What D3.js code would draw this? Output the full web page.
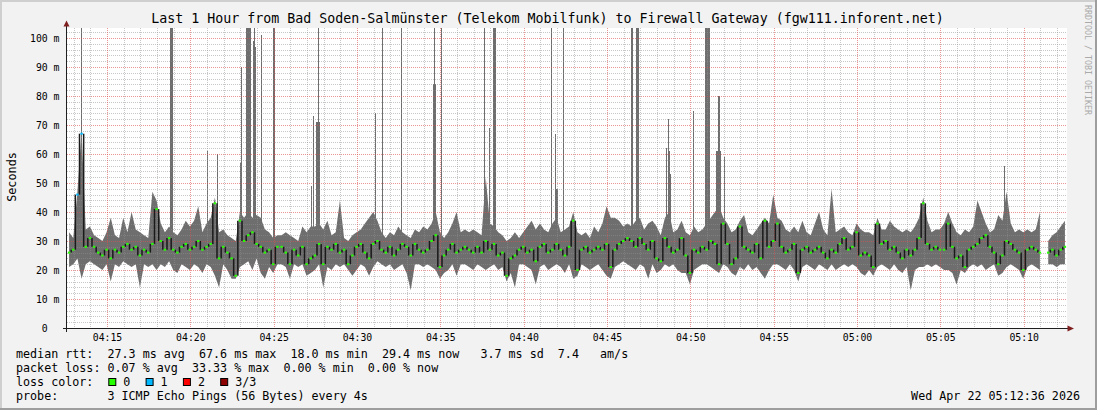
<!DOCTYPE html>
<html>
<head>
<meta charset="utf-8">
<script src="https://cdn.jsdelivr.net/npm/d3@7"></script>
<style>
	html, body { margin: 0; padding: 0; background: #f2f2f2; }
	svg { display: block; }
	text { font-family: "DejaVu Sans Mono", monospace; white-space: pre; }
</style>
</head>
<body>
<svg id="chart" width="1097" height="410"></svg>
<script>
// ---- chart data ----
const titleText = 'Last 1 Hour from Bad Soden-Salmünster (Telekom Mobilfunk) to Firewall Gateway (fgw111.inforent.net)';
const chartDay = '2026-04-22';
const startTime = '04:12:36';
const endTime = '05:12:36';
const sampleStep = 15; // seconds per smoke column
const pingStep = 4; // seconds per raw probe round

// lowest ping per column (ms)
const smokeLo = [
	21, 22, 24, 17, 22, 23, 22, 21, 20, 22,
	16, 22, 21, 23, 22, 21, 22, 14, 22, 21,
	22, 20, 22, 21, 23, 20, 19, 22, 21, 20,
	22, 21, 19, 22, 21, 18, 14, 22, 20, 17,
	17, 21, 22, 23, 20, 24, 19, 17, 21, 19,
	22, 22, 21, 17, 22, 21, 22, 18, 19, 20,
	22, 14, 21, 20, 22, 21, 22, 20, 18, 20,
	22, 21, 18, 21, 23, 22, 21, 22, 20, 21,
	22, 19, 13, 22, 22, 21, 22, 21, 20, 17,
	19, 20, 22, 18, 22, 22, 21, 20, 22, 21,
	20, 21, 22, 20, 21, 16, 19, 14, 22, 22,
	21, 20, 15, 21, 22, 20, 21, 22, 21, 19,
	22, 17, 18, 22, 21, 20, 21, 22, 20, 18,
	17, 21, 22, 23, 22, 21, 20, 22, 21, 17,
	22, 19, 20, 22, 21, 22, 20, 19, 19, 15,
	20, 21, 22, 22, 21, 20, 19, 22, 21, 19,
	18, 21, 20, 22, 20, 21, 19, 17, 20, 22,
	22, 21, 20, 22, 20, 16, 21, 22, 21, 20,
	22, 21, 20, 22, 20, 21, 22, 21, 22, 21,
	19, 18, 20, 18, 21, 22, 21, 20, 22, 20,
	19, 21, 13, 20, 21, 21, 22, 21, 22, 21,
	20, 20, 19, 15, 20, 19, 21, 22, 21, 22,
	20, 21, 22, 18, 19, 21, 22, 21, 20, 17,
	21, 22, 21, 20, null, 22, 22, 21, 22, 22
];
// median ping per column (ms)
const smokeMed = [
	26, 27, 46, 67, 28, 31, 28, 26, 25, 27,
	24, 27, 26, 28, 29, 27, 28, 25, 27, 26,
	29, 41, 30, 27, 31, 27, 26, 28, 29, 27,
	28, 30, 27, 28, 29, 43, 24, 28, 26, 24,
	18, 37, 30, 32, 33, 29, 28, 26, 27, 22,
	28, 28, 26, 22, 27, 25, 28, 22, 24, 25,
	29, 22, 28, 27, 29, 26, 27, 22, 25, 28,
	29, 26, 24, 29, 30, 27, 26, 28, 25, 27,
	29, 28, 25, 29, 27, 26, 27, 30, 32, 21,
	25, 27, 29, 26, 27, 28, 27, 26, 28, 26,
	30, 27, 29, 25, 26, 18, 24, 25, 27, 28,
	26, 27, 23, 28, 29, 26, 27, 29, 27, 25,
	28, 37, 20, 27, 28, 26, 27, 28, 27, 29,
	21, 27, 29, 30, 31, 30, 28, 31, 29, 27,
	30, 24, 23, 31, 28, 26, 27, 31, 25, 19,
	27, 26, 28, 27, 30, 29, 22, 36, 29, 22,
	24, 35, 28, 27, 26, 29, 24, 37, 28, 30,
	36, 28, 26, 27, 29, 19, 27, 28, 26, 27,
	28, 26, 24, 27, 26, 29, 31, 27, 28, 33,
	25, 26, 25, 21, 36, 29, 30, 27, 28, 26,
	24, 27, 25, 27, 31, 43, 29, 27, 28, 27,
	27, 36, 28, 24, 25, 21, 27, 28, 29, 31,
	32, 28, 26, 22, 25, 30, 29, 27, 26, 20,
	27, 28, 27, 26, null, 26, 27, 25, 27, 28
];
// highest ping per column (ms)
const smokeHi = [
	33, 31, 47, 68, 34, 35, 32, 31, 30, 33,
	38, 32, 31, 38, 33, 40, 34, 33, 32, 31,
	47, 44, 36, 33, 35, 33, 32, 34, 37, 35,
	37, 42, 33, 36, 38, 45, 33, 34, 32, 31,
	30, 40, 38, 40, 38, 39, 38, 34, 33, 31,
	32, 32, 33, 32, 31, 30, 35, 33, 35, 35,
	36, 34, 37, 32, 33, 44, 31, 30, 32, 33,
	34, 36, 38, 40, 37, 33, 31, 33, 32, 35,
	33, 32, 31, 34, 33, 35, 34, 36, 40, 33,
	31, 33, 36, 40, 33, 34, 33, 34, 33, 32,
	52, 36, 35, 33, 32, 30, 31, 33, 31, 33,
	35, 37, 34, 36, 34, 33, 36, 38, 33, 34,
	35, 40, 33, 32, 33, 31, 35, 33, 36, 42,
	38, 38, 37, 35, 36, 35, 37, 38, 34, 36,
	37, 35, 32, 38, 40, 33, 34, 37, 33, 32,
	35, 33, 34, 36, 38, 40, 42, 38, 36, 33,
	34, 37, 39, 33, 32, 34, 36, 38, 36, 46,
	38, 37, 34, 33, 35, 33, 37, 33, 32, 36,
	40, 34, 32, 48, 33, 34, 35, 33, 32, 36,
	34, 33, 33, 32, 38, 34, 34, 37, 35, 34,
	33, 34, 33, 35, 38, 45, 37, 33, 34, 34,
	36, 40, 36, 33, 32, 34, 33, 35, 44, 40,
	36, 33, 34, 39, 37, 47, 36, 33, 34, 33,
	34, 33, 34, 40, null, 30, 32, 33, 35, 37
];

// single probe rounds that shot far above the band
const spikeTimes = [
	'04:13:25', '04:18:45', '04:18:49', '04:18:53', '04:20:59', '04:21:35', '04:22:58', '04:23:02',
	'04:23:21', '04:23:25', '04:23:29', '04:23:33', '04:23:44', '04:23:48', '04:23:52', '04:24:14',
	'04:24:59', '04:27:14', '04:27:21', '04:27:32', '04:27:36', '04:27:40', '04:27:44', '04:31:04',
	'04:31:30', '04:32:38', '04:34:34', '04:34:38', '04:34:42', '04:35:03', '04:37:37', '04:37:56',
	'04:38:10', '04:38:14', '04:38:18', '04:41:38', '04:41:52', '04:41:56', '04:42:00', '04:42:21',
	'04:46:28', '04:46:44', '04:46:48', '04:46:52', '04:48:32', '04:48:38', '04:48:43', '04:48:47',
	'04:50:09', '04:50:53', '04:50:57', '04:51:01', '04:51:05', '04:51:33', '04:51:37', '04:51:41',
	'04:51:45', '04:52:02', '05:08:49'
];
const spikeValues = [
	110, 110, 110, 110, 61, 60, 57, 90,
	110, 110, 110, 110, 99, 110, 97, 101,
	110, 49, 73, 71, 71, 110, 71, 74,
	110, 110, 84, 110, 84, 110, 110, 69,
	110, 110, 110, 110, 67, 48, 48, 110,
	110, 110, 110, 110, 62, 72, 61, 53,
	75, 110, 110, 110, 110, 61, 61, 80,
	61, 59, 56
];

// columns where pings were lost
const lossSampleIdx = [2, 3];
const lossSampleCount = [1, 1];
const lossNames = ['0', '1', '2', '3/3'];

const yTickValues = [0, 10, 20, 30, 40, 50, 60, 70, 80, 90, 100];
const yTickLabels = ['0  ', '10 m', '20 m', '30 m', '40 m', '50 m', '60 m', '70 m', '80 m', '90 m', '100 m'];
const xTickLabels = ['04:15', '04:20', '04:25', '04:30', '04:35', '04:40', '04:45', '04:50', '04:55', '05:00', '05:05', '05:10'];

const legendLines = [
	'median rtt:  27.3 ms avg  67.6 ms max  18.0 ms min  29.4 ms now   3.7 ms sd  7.4   am/s',
	'packet loss: 0.07 % avg  33.33 % max  0.00 % min  0.00 % now',
	'loss color:',
	'probe:       3 ICMP Echo Pings (56 Bytes) every 4s'
];
const stampText = 'Wed Apr 22 05:12:36 2026';
const watermarkText = 'RRDTOOL / TOBI OETIKER';

// ---- drawing ----
const W = 1097, H = 410;
const plot = { left: 67, right: 1067, top: 28, bottom: 328 };
const lossColors = ['#26ff00', '#00b8ff', '#ff0000', '#8c0000'];
const gridColor = 'rgba(143,143,143,0.5)';
const mgridColor = 'rgba(222,79,79,0.6)';
const smokeColor = '#6e6e6e';

const parse = d3.timeParse('%Y-%m-%d %H:%M:%S');
// accepts HH:MM:SS or HH:MM
const at = s => parse(`${chartDay} ${s.length === 5 ? s + ':00' : s}`);
const t0 = at(startTime), t1 = at(endTime);

const x = d3.scaleTime().domain([t0, t1]).range([plot.left, plot.right]);
const y = d3.scaleLinear().domain([0, 100]).range([plot.bottom, 38]);

const svg = d3.select('#chart');

// background and the rrdtool 3d frame
svg.append('rect').attr('width', W).attr('height', H).attr('fill', '#f2f2f2');
svg.append('rect').attr('x', 0).attr('y', 0).attr('width', W).attr('height', 2).attr('fill', '#cfcfcf');
svg.append('rect').attr('x', 0).attr('y', 0).attr('width', 2).attr('height', H).attr('fill', '#cfcfcf');
svg.append('rect').attr('x', 0).attr('y', H - 2).attr('width', W).attr('height', 2).attr('fill', '#9e9e9e');
svg.append('rect').attr('x', W - 2).attr('y', 0).attr('width', 2).attr('height', H).attr('fill', '#9e9e9e');

svg.append('rect')
	.attr('x', plot.left).attr('y', plot.top)
	.attr('width', plot.right - plot.left).attr('height', plot.bottom - plot.top)
	.attr('fill', '#fff');

svg.append('clipPath').attr('id', 'plot-clip')
	.append('rect')
	.attr('x', plot.left).attr('y', plot.top)
	.attr('width', plot.right - plot.left).attr('height', plot.bottom - plot.top);

const allSamples = smokeMed.map((m, i) => ({
	i,
	med: m,
	lo: smokeLo[i],
	hi: smokeHi[i],
	t: d3.timeSecond.offset(t0, i * sampleStep),
	loss: lossSampleIdx.includes(i) ? lossSampleCount[lossSampleIdx.indexOf(i)] : 0
}));
const samples = allSamples.filter(d => d.med != null);

const colX0 = d => x(d.t);
const colX1 = d => x(d3.timeSecond.offset(d.t, sampleStep));
const colXc = d => (colX0(d) + colX1(d)) / 2;

const dataG = svg.append('g').attr('clip-path', 'url(#plot-clip)');

// smoke: range of the pings in each column
const smokeArea = d3.area()
	.defined(d => d.med != null)
	.x(colXc)
	.y0(d => y(d.lo))
	.y1(d => y(d.hi));
dataG.append('path')
	.attr('d', smokeArea(allSamples))
	.attr('fill', smokeColor);

// spikes
const spikes = spikeTimes.map((s, i) => ({ t: at(s), v: spikeValues[i] }));
dataG.append('g')
	.selectAll('rect')
	.data(spikes)
	.join('rect')
	.attr('x', d => x(d.t))
	.attr('width', d => Math.max(1, x(d3.timeSecond.offset(d.t, pingStep)) - x(d.t)))
	.attr('y', d => y(d.v))
	.attr('height', d => y(25) - y(d.v))
	.attr('fill', smokeColor)
	.attr('shape-rendering', 'crispEdges');

// grid on top of the smoke, like rrdtool does
const gridG = svg.append('g').attr('shape-rendering', 'crispEdges').attr('stroke-dasharray', '1,1');
const minorY = d3.range(2, 104, 2).filter(v => v % 10 !== 0);
const majorY = yTickValues.filter(v => v > 0);
const majorX = xTickLabels.map(at);
const minorX = d3.timeMinute.range(t0, t1).filter(t => t.getMinutes() % 5 !== 0);
const hLine = (cls, vals, color) => gridG.selectAll(`line.${cls}`)
	.data(vals)
	.join('line')
	.attr('class', cls)
	.attr('x1', plot.left).attr('x2', plot.right)
	.attr('y1', d => Math.round(y(d)) + 0.5).attr('y2', d => Math.round(y(d)) + 0.5)
	.attr('stroke', color);
const vLine = (cls, vals, color) => gridG.selectAll(`line.${cls}`)
	.data(vals)
	.join('line')
	.attr('class', cls)
	.attr('y1', plot.top).attr('y2', plot.bottom)
	.attr('x1', d => Math.round(x(d)) + 0.5).attr('x2', d => Math.round(x(d)) + 0.5)
	.attr('stroke', color);
hLine('gy', minorY, gridColor);
vLine('gx', minorX, gridColor);
hLine('my', majorY, mgridColor);
vLine('mx', majorX, mgridColor);

// median: dark jumps between columns and coloured marks by loss
const medG = svg.append('g').attr('clip-path', 'url(#plot-clip)');
medG.selectAll('line')
	.data(d3.pairs(samples).filter(([a, b]) => b.i === a.i + 1))
	.join('line')
	.attr('x1', ([, b]) => colX0(b)).attr('x2', ([, b]) => colX0(b))
	.attr('y1', ([a]) => y(a.med)).attr('y2', ([, b]) => y(b.med))
	.attr('stroke', '#1a1a1a')
	.attr('stroke-width', 1.5);
medG.selectAll('rect')
	.data(samples)
	.join('rect')
	.attr('x', d => colXc(d) - 1.2)
	.attr('width', 2.4)
	.attr('y', d => y(d.med) - 1)
	.attr('height', 2)
	.attr('fill', d => lossColors[d.loss]);

// axes
const axisColor = '#1f1f1f';
svg.append('line')
	.attr('x1', plot.left - 4).attr('x2', plot.right + 1)
	.attr('y1', plot.bottom + 0.5).attr('y2', plot.bottom + 0.5)
	.attr('stroke', axisColor);
svg.append('line')
	.attr('x1', plot.left - 0.5).attr('x2', plot.left - 0.5)
	.attr('y1', plot.bottom + 4).attr('y2', plot.top - 2)
	.attr('stroke', axisColor);
svg.append('path')
	.attr('d', `M${plot.right + 0.5},${plot.bottom - 2.5}L${plot.right + 7},${plot.bottom + 0.5}L${plot.right + 0.5},${plot.bottom + 3.5}Z`)
	.attr('fill', '#801f1f');
svg.append('path')
	.attr('d', `M${plot.left - 3.5},${plot.top - 1.5}L${plot.left - 0.5},${plot.top - 7.5}L${plot.left + 2.5},${plot.top - 1.5}Z`)
	.attr('fill', '#801f1f');

const axisFont = '"DejaVu Sans Mono", monospace';
svg.append('g')
	.attr('transform', `translate(${plot.left - 0.5},0)`)
	.call(d3.axisLeft(y).tickValues(yTickValues).tickFormat((d, i) => yTickLabels[i]).tickSize(0).tickPadding(7))
	.call(g => g.select('.domain').remove())
	.attr('font-family', axisFont)
	.attr('font-size', 9.8)
	.attr('color', '#000');

svg.append('g')
	.attr('transform', `translate(0,${plot.bottom})`)
	.call(d3.axisBottom(x).tickValues(majorX).tickFormat((d, i) => xTickLabels[i]).tickSize(0).tickPadding(6))
	.call(g => g.select('.domain').remove())
	.attr('font-family', axisFont)
	.attr('font-size', 9.8)
	.attr('color', '#000');

// titles
svg.append('text')
	.attr('x', 547.5).attr('y', 23)
	.attr('text-anchor', 'middle')
	.attr('font-size', 13.3)
	.text(titleText);

svg.append('text')
	.attr('transform', 'translate(15.5,177) rotate(-90)')
	.attr('text-anchor', 'middle')
	.attr('font-size', 11.8)
	.text('Seconds');

svg.append('text')
	.attr('transform', 'translate(1088,5) rotate(90)')
	.attr('dominant-baseline', 'central')
	.attr('font-size', 8.3)
	.attr('fill', '#aaaaaa')
	.text(watermarkText);

// legend
const legendG = svg.append('g').attr('font-size', 11.7);
legendG.selectAll('text')
	.data(legendLines)
	.join('text')
	.attr('x', 16)
	.attr('y', (d, i) => 358 + i * 14)
	.text(d => d);

const swatch = legendG.selectAll('g.sw')
	.data(lossNames)
	.join('g')
	.attr('class', 'sw')
	.attr('transform', (d, i) => `translate(${108.3 + i * 37.3},0)`);
swatch.append('rect')
	.attr('x', 0.5).attr('y', 378.5)
	.attr('width', 7).attr('height', 7)
	.attr('fill', (d, i) => lossColors[i])
	.attr('stroke', '#000');
swatch.append('text')
	.attr('x', 15).attr('y', 386)
	.text(d => d);

legendG.append('text')
	.attr('x', 1080).attr('y', 400)
	.attr('text-anchor', 'end')
	.text(stampText);
</script>
</body>
</html>
